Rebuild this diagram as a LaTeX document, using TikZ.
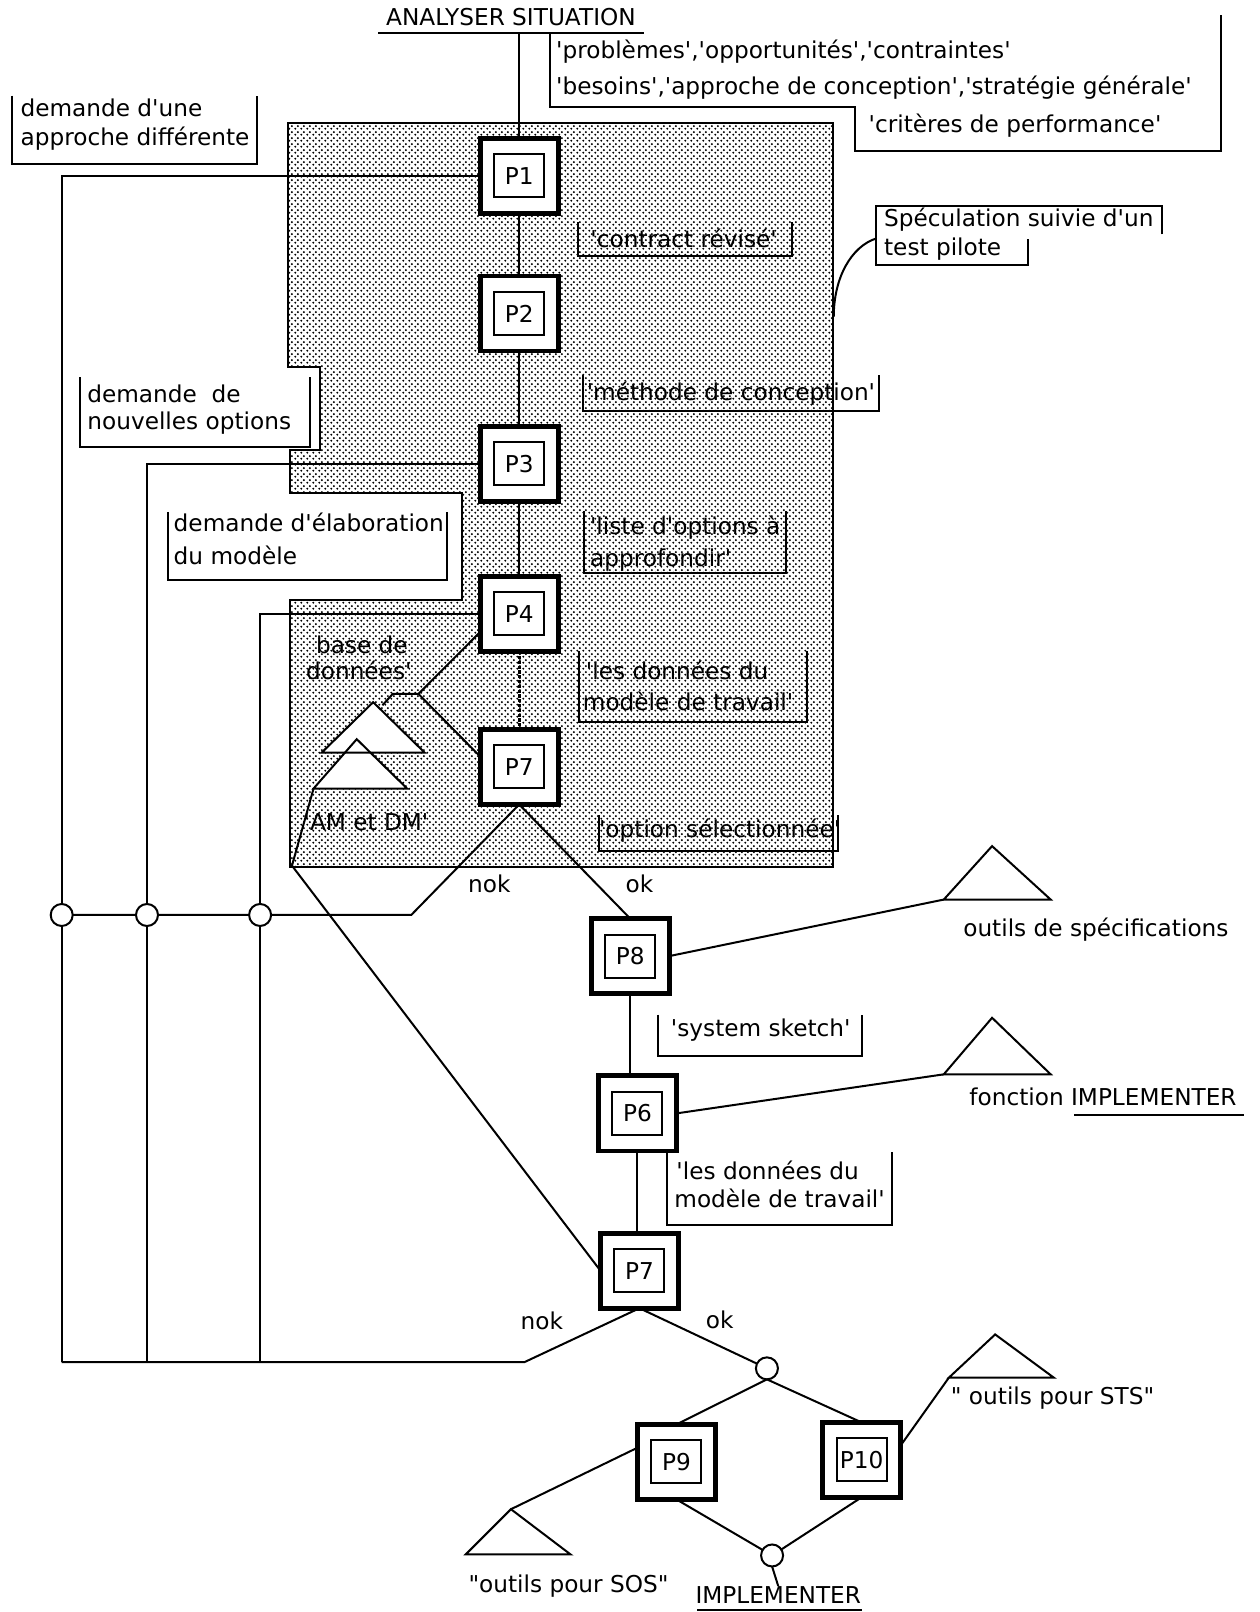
\documentclass[tikz,border=0pt]{standalone}
\usepackage{fontspec}
\setmainfont{DejaVu Sans}
\usetikzlibrary{patterns}
\pgfdeclarepatternformonly{stipple}{\pgfpointorigin}{\pgfpoint{3pt}{3pt}}{\pgfpoint{3pt}{3pt}}{%
  \pgfpathcircle{\pgfpoint{0.75pt}{0.75pt}}{0.62pt}%
  \pgfpathcircle{\pgfpoint{2.25pt}{2.25pt}}{0.62pt}%
  \pgfusepath{fill}}
\newcommand{\sq}{\textquotesingle}
\newcommand{\dq}{\textquotedbl}
\begin{document}
\begin{tikzpicture}[x=0.5139pt,y=-0.5139pt,
 every node/.style={font=\fontsize{11.6}{14}\selectfont, inner sep=0pt, outer sep=0pt},
 pbox/.style={draw, line width=2.4pt, fill=white, minimum width=39pt, minimum height=37.5pt},
 pinner/.style={draw, line width=1pt, minimum width=25pt, minimum height=21.5pt},
 ln/.style={line width=1pt},
 lab/.style={anchor=west},
 junc/.style={circle, draw, line width=1pt, fill=white, minimum size=11pt},
 shade/.style={pattern=stipple}
]
\useasboundingbox (0,0) rectangle (1225,1568);

% stippled area
\draw[ln, shade] (280,120) -- (810,120) -- (810,843) -- (282,843) -- (282,584) -- (449,584)
  -- (449,480) -- (282,480) -- (282,438) -- (311,438) -- (311,357) -- (280,357) -- cycle;

% title
\node (title) at (497,17) {ANALYSER SITUATION};
\draw[ln] (368,32) -- (626,32);
\coordinate (tb) at (505,32);

% top-right bracket
\node[lab] (cr1) at (541,50) {\sq problèmes\sq,\sq opportunités\sq,\sq contraintes\sq};
\node[lab] (cr2) at (541,85) {\sq besoins\sq,\sq approche de conception\sq,\sq stratégie générale\sq};
\node[lab] (cr3) at (845,122) {\sq critères de performance\sq};
\draw[ln] (535,32) -- (535,104) -- (832,104) -- (832,147) -- (1188,147) -- (1188,15);

% process boxes
\node[pbox] (P1) at (505,171) {};  \node[pinner] (P1t) at (P1) {P1};
\node[pbox] (P2) at (505,305) {};  \node[pinner] (P2t) at (P2) {P2};
\node[pbox] (P3) at (505,451) {};  \node[pinner] (P3t) at (P3) {P3};
\node[pbox] (P4) at (505,597) {};  \node[pinner] (P4t) at (P4) {P4};
\node[pbox] (P7a) at (505,746) {}; \node[pinner] (P7at) at (P7a) {P7};
\node[pbox] (P8) at (613,930) {};  \node[pinner] (P8t) at (P8) {P8};
\node[pbox] (P6) at (620,1083) {}; \node[pinner] (P6t) at (P6) {P6};
\node[pbox] (P7b) at (622,1236) {};\node[pinner] (P7bt) at (P7b) {P7};
\node[pbox] (P9) at (658,1422) {}; \node[pinner] (P9t) at (P9) {P9};
\node[pbox] (P10) at (838,1420) {};\node[pinner] (P10t) at (P10) {P10};

% main chain
\draw[ln] (tb) -- (P1.north);
\draw[ln] (P1.south) -- (P2.north);
\draw[ln] (P2.south) -- (P3.north);
\draw[ln] (P3.south) -- (P4.north);
\draw[line width=1.5pt, dash pattern=on 1.6pt off 0.8pt] (P4.south) -- (P7a.north);

% feedback lines on the left
\node[junc] (J1) at (60,890) {};
\node[junc] (J2) at (143,890) {};
\node[junc] (J3) at (253,890) {};
\coordinate (a1) at (60,171);  \coordinate (b1) at (60,1325);
\coordinate (a2) at (143,451); \coordinate (b2) at (143,1325);
\coordinate (a3) at (253,597); \coordinate (b3) at (253,1325);
\draw[ln] (P1.west) -- (a1) -- (J1) -- (b1);
\draw[ln] (P3.west) -- (a2) -- (J2) -- (b2);
\draw[ln] (P4.west) -- (a3) -- (J3) -- (b3);
\coordinate (k1) at (400,890);
\draw[ln] (J1) -- (J2) -- (J3) -- (k1) -- (P7a.south);
\draw[ln] (P7a.south) -- (P8.north);
\node (nok1) at (476,860) {nok};
\node (ok1) at (622,860) {ok};

% data base triangles
\coordinate (jd) at (407,675); \coordinate (jd2) at (382,675); \coordinate (jd3) at (372,686);
\draw[ln] (P4.205) -- (jd) -- (P7a.165);
\draw[ln] (jd) -- (jd2) -- (jd3);
\coordinate (uA) at (363,683); \coordinate (uL) at (313,732); \coordinate (uR) at (413,732);
\coordinate (lA) at (347,719); \coordinate (lL) at (305,767); \coordinate (lR) at (396,767);
\fill[white] (uL) -- (uA) -- (uR) -- cycle;
\fill[white] (lL) -- (lA) -- (lR) -- cycle;
\draw[ln] (uL) -- (uA) -- (uR) -- cycle;
\draw[ln] (lL) -- (lA) -- (lR) -- cycle;
\coordinate (am1) at (284,842);
\draw[ln] (lL) -- (am1) -- (P7b.west);
\node (bd1) at (352,627) {base de};
\node (bd2) at (349,652) {données\sq};
\node (amdm) at (356,800) {\sq AM et DM\sq};

% labels inside the stippled area
\node (c1) at (665,232) {\sq contract révisé\sq};
\draw[ln] (562,216) -- (562,249) -- (770,249) -- (770,216);
\node (m1) at (711,383) {\sq méthode de conception\sq};
\draw[ln] (567,365) -- (567,400) -- (855,400) -- (855,365);
\node[lab] (l1) at (574,513) {\sq liste d\sq options à};
\node[lab] (l2) at (574,545) {approfondir\sq};
\draw[ln] (568,497) -- (568,557) -- (765,557) -- (765,497);
\node[lab] (d1) at (570,652) {\sq les données du};
\node[lab] (d2) at (567,682) {modèle de travail\sq};
\draw[ln] (563,633) -- (563,702) -- (785,702) -- (785,633);
\node (o1) at (700,808) {\sq option sélectionnée\sq};
\draw[ln] (583,793) -- (583,828) -- (815,828) -- (815,793);

% left request boxes
\node[lab] (da1) at (20,105) {demande d\sq une};
\node[lab] (da2) at (20,135) {approche différente};
\draw[ln] (12,93) -- (12,160) -- (250,160) -- (250,93);
\node[lab] (dn1) at (85,383) {demande\ \ de};
\node[lab] (dn2) at (85,412) {nouvelles options};
\draw[ln] (78,367) -- (78,435) -- (302,435) -- (302,367);
\node[lab] (de1) at (169,508) {demande d\sq élaboration};
\node[lab] (de2) at (169,540) {du modèle};
\draw[ln] (163,498) -- (163,564) -- (435,564) -- (435,498);

% speculation
\node[lab] (s1) at (860,214) {Spéculation suivie d\sq un};
\node[lab] (s2) at (860,242) {test pilote};
\draw[ln] (1130,228) -- (1130,200) -- (852,200) -- (852,258) -- (1000,258) -- (1000,232);
\coordinate (sp) at (852,232); \coordinate (se) at (811,308);
\draw[ln] (sp) .. controls (828,240) and (811,270) .. (se);

% lower chain
\draw[ln] (P8.south) -- (P8.south |- P6.north);
\node (ss) at (740,1002) {\sq system sketch\sq};
\draw[ln] (640,987) -- (640,1027) -- (838,1027) -- (838,987);
\draw[ln] (P6.south) -- (P6.south |- P7b.north);
\node[lab] (e1) at (658,1138) {\sq les données du};
\node[lab] (e2) at (656,1166) {modèle de travail\sq};
\draw[ln] (649,1119) -- (649,1192) -- (868,1192) -- (868,1121);

% tools triangles
\coordinate (t1L) at (918,875); \coordinate (t1A) at (965,823); \coordinate (t1R) at (1022,875);
\coordinate (t2L) at (918,1045); \coordinate (t2A) at (965,990); \coordinate (t2R) at (1022,1045);
\coordinate (t3L) at (923,1340); \coordinate (t3A) at (968,1298); \coordinate (t3R) at (1025,1340);
\coordinate (t4L) at (453,1512); \coordinate (t4A) at (497,1468); \coordinate (t4R) at (555,1512);
\draw[ln] (t1L) -- (t1A) -- (t1R) -- cycle;
\draw[ln] (t2L) -- (t2A) -- (t2R) -- cycle;
\draw[ln] (t3L) -- (t3A) -- (t3R) -- cycle;
\draw[ln] (t4L) -- (t4A) -- (t4R) -- cycle;
\draw[ln] (P8.east) -- (t1L);
\draw[ln] (P6.east) -- (t2L);
\draw[ln] (P10.20) -- (t3L);
\draw[ln] (P9.160) -- (t4A);
\node[lab] (os) at (937,904) {outils de spécifications};
\node[lab] (fi) at (943,1067) {fonction IMPLEMENTER};
\draw[ln] (1045,1085) -- (1210,1085);
\node[lab] (sts) at (925,1360) {\dq{} outils pour STS\dq};
\node (sos) at (553,1543) {\dq outils pour SOS\dq};

% bottom tree
\coordinate (n2) at (510,1325);
\draw[ln] (P7b.south) -- (n2) -- (b1);
\node (nok2) at (527,1285) {nok};
\node (ok2) at (700,1284) {ok};
\node[junc] (J4) at (746,1331) {};
\draw[ln] (P7b.south) -- (J4);
\draw[ln] (J4.south) -- (P9.north);
\draw[ln] (J4.south) -- (P10.north);
\node[junc] (J5) at (751,1513) {};
\draw[ln] (P9.south) -- (J5);
\draw[ln] (P10.south) -- (J5);
\node (impl) at (757,1551) {IMPLEMENTER};
\draw[ln] (J5.south) -- (impl.north);
\draw[ln] (678,1566) -- (838,1566);
\end{tikzpicture}
\end{document}
